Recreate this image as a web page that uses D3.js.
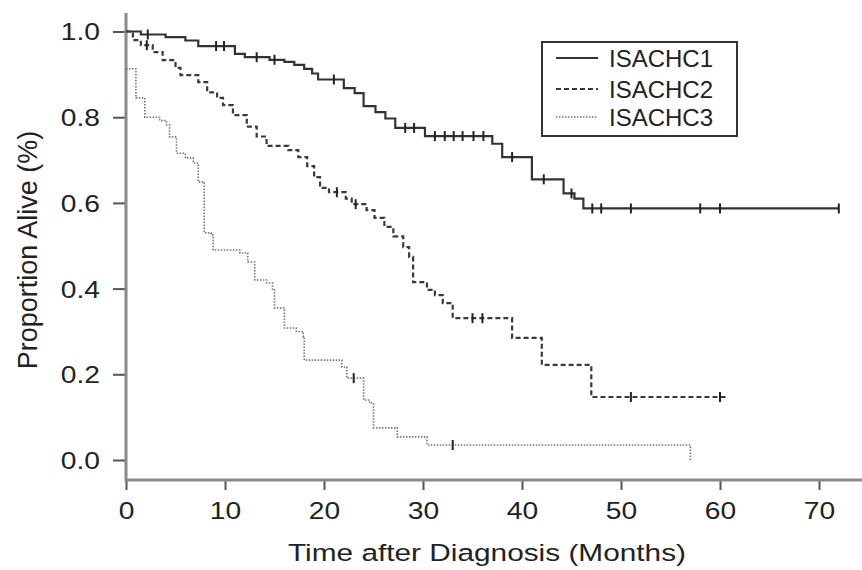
<!DOCTYPE html>
<html>
<head>
<meta charset="utf-8">
<script src="https://cdn.jsdelivr.net/npm/d3@7"></script>
<style>
  html, body { margin: 0; padding: 0; background: #fff; }
  svg { display: block; }
  text { font-family: "Liberation Sans", Arial, Helvetica, sans-serif; fill: #222; }
</style>
</head>
<body>
<svg id="chart" width="862" height="570"></svg>
<script>
// ---------------- Data ----------------
const seriesNames = ["ISACHC1", "ISACHC2", "ISACHC3"];
const xTicks = [0, 10, 20, 30, 40, 50, 60, 70];
const yTicks = [0.0, 0.2, 0.4, 0.6, 0.8, 1.0];

// ISACHC1 (solid)
const s1Time = [0, 1.5, 4, 6, 7.3, 11, 12, 14.5, 16, 17, 18, 18.8, 19.4, 22, 23.1, 24, 25.2, 26.2, 27.2, 30.2, 37, 38, 41, 44.2, 45.3, 46.2, 72];
const s1Surv = [1.0, 0.993, 0.987, 0.979, 0.966, 0.948, 0.940, 0.934, 0.929, 0.922, 0.913, 0.902, 0.888, 0.868, 0.856, 0.826, 0.812, 0.797, 0.775, 0.756, 0.738, 0.707, 0.655, 0.622, 0.61, 0.587, 0.587];
const s1Censor = [2.2, 9.1, 9.9, 13.2, 15, 21, 28.2, 29.1, 31.2, 32.2, 33.1, 34, 35.1, 36.1, 39, 42.2, 45, 47.1, 48, 51, 58, 60, 72];

// ISACHC2 (dashed)
const s2Time = [0, 0.7, 1.5, 2.7, 3.7, 5, 5.5, 7.3, 8.2, 9.2, 9.8, 10.8, 12.2, 13.2, 14.2, 16.4, 17.4, 18.3, 19, 19.6, 20.5, 22.2, 22.8, 24.3, 25.1, 26.1, 27, 28, 28.6, 29, 30.4, 31.2, 32, 33, 39, 42, 47, 60.6];
const s2Surv = [1.0, 0.98, 0.968, 0.952, 0.933, 0.915, 0.898, 0.882, 0.858, 0.845, 0.828, 0.805, 0.778, 0.755, 0.733, 0.723, 0.707, 0.686, 0.66, 0.635, 0.625, 0.61, 0.597, 0.583, 0.565, 0.544, 0.522, 0.497, 0.474, 0.415, 0.397, 0.385, 0.366, 0.331, 0.285, 0.222, 0.147, 0.147];
const s2Censor = [2.1, 21.3, 23.2, 35, 36, 51, 60];

// ISACHC3 (dotted)
const s3Time = [0, 1, 1.9, 3.4, 4.1, 4.4, 5.1, 6, 6.8, 7.3, 7.9, 8.6, 8.8, 11.5, 12.3, 13, 14.2, 14.8, 15, 16, 17.2, 17.9, 18, 21.8, 22.3, 24, 24.6, 25, 27.4, 30.4, 57];
const s3Surv = [0.913, 0.845, 0.80, 0.792, 0.782, 0.754, 0.716, 0.705, 0.693, 0.649, 0.53, 0.525, 0.49, 0.483, 0.462, 0.42, 0.413, 0.397, 0.355, 0.308, 0.30, 0.287, 0.233, 0.217, 0.191, 0.14, 0.133, 0.075, 0.054, 0.035, 0.0];
const s3Censor = [23, 33];

// ---------------- Chart ----------------
const svg = d3.select("#chart");
const x = d3.scaleLinear().domain([0, 70]).range([126, 819]);
const y = d3.scaleLinear().domain([0, 1]).range([460, 31.5]);
const axisY0 = 480; // vertical position of x axis line

const styles = [
  { stroke: "#333", width: 2.2, dash: null },
  { stroke: "#3a3a3a", width: 2.2, dash: "5,3" },
  { stroke: "#777", width: 1.6, dash: "1.5,1.5" }
];

const series = [
  { t: s1Time, s: s1Surv, c: s1Censor },
  { t: s2Time, s: s2Surv, c: s2Censor },
  { t: s3Time, s: s3Surv, c: s3Censor }
];

function survAt(ser, tt) {
  let v = ser.s[0];
  for (let i = 0; i < ser.t.length; i++) {
    if (ser.t[i] <= tt) v = ser.s[i]; else break;
  }
  return v;
}

// Axes
const stretch = 1.2;
function stretchText(sel) {
  sel.selectAll("text").attr("transform", function () {
    const xx = +this.getAttribute("x") || 0;
    return `translate(${xx * (1 - stretch)},0) scale(${stretch},1)`;
  });
}

const yAxis = d3.axisLeft(y).tickValues(yTicks).tickFormat(d3.format(".1f")).tickSize(13).tickPadding(13).tickSizeOuter(0);
const gy = svg.append("g").attr("transform", `translate(${x(0)},0)`).call(yAxis);
gy.select(".domain").remove();
gy.selectAll(".tick line").attr("stroke", "#555").attr("stroke-width", 2);
gy.selectAll(".tick text").attr("font-size", 23.5).attr("fill", "#222").attr("dy", "0.36em");
stretchText(gy);

const xAxis = d3.axisBottom(x).tickValues(xTicks).tickFormat(d3.format("d")).tickSize(10).tickPadding(12).tickSizeOuter(0);
const gx = svg.append("g").attr("transform", `translate(0,${axisY0})`).call(xAxis);
gx.select(".domain").remove();
gx.selectAll(".tick line").attr("stroke", "#555").attr("stroke-width", 2);
gx.selectAll(".tick text").attr("font-size", 23.5).attr("fill", "#222");
gx.selectAll(".tick text").attr("transform", `scale(${stretch},1)`).attr("x", 0);
gx.selectAll(".tick").each(function () {
  // keep labels centered on the ticks after stretching
});

// axis lines
svg.append("line").attr("x1", x(0)).attr("x2", x(0)).attr("y1", 13).attr("y2", axisY0 + 1)
  .attr("stroke", "#8a8a8a").attr("stroke-width", 3);
svg.append("line").attr("x1", x(0) - 1).attr("x2", 862).attr("y1", axisY0).attr("y2", axisY0)
  .attr("stroke", "#8a8a8a").attr("stroke-width", 3);

// Curves
const line = d3.line().x(d => x(d[0])).y(d => y(d[1])).curve(d3.curveStepAfter);
series.forEach((ser, i) => {
  const pts = ser.t.map((tt, k) => [tt, ser.s[k]]);
  const st = styles[i];
  svg.append("path").datum(pts).attr("d", line)
    .attr("fill", "none").attr("stroke", st.stroke).attr("stroke-width", st.width)
    .attr("stroke-dasharray", st.dash);
  svg.append("g").selectAll("line").data(ser.c).join("line")
    .attr("x1", d => x(d)).attr("x2", d => x(d))
    .attr("y1", d => y(survAt(ser, d)) - 5).attr("y2", d => y(survAt(ser, d)) + 5)
    .attr("stroke", "#222").attr("stroke-width", 2);
});

// Axis titles
svg.append("text").attr("x", 487).attr("y", 561).attr("text-anchor", "middle")
  .attr("font-size", 24.5).attr("textLength", 398).attr("lengthAdjust", "spacingAndGlyphs")
  .text("Time after Diagnosis (Months)");
svg.append("text").attr("transform", "translate(37,250) rotate(-90)").attr("text-anchor", "middle")
  .attr("font-size", 27).text("Proportion Alive (%)");

// Legend
const lg = svg.append("g");
lg.append("rect").attr("x", 542).attr("y", 42).attr("width", 195).attr("height", 94)
  .attr("fill", "#fff").attr("stroke", "#333").attr("stroke-width", 2);
const rowsY = [58, 89, 117];
seriesNames.forEach((name, i) => {
  const st = styles[i];
  lg.append("line").attr("x1", 556).attr("x2", 598).attr("y1", rowsY[i]).attr("y2", rowsY[i])
    .attr("stroke", st.stroke).attr("stroke-width", st.width).attr("stroke-dasharray", st.dash);
  lg.append("text").attr("x", 609).attr("y", rowsY[i] + 9).attr("font-size", 24).text(name);
});
</script>
</body>
</html>
